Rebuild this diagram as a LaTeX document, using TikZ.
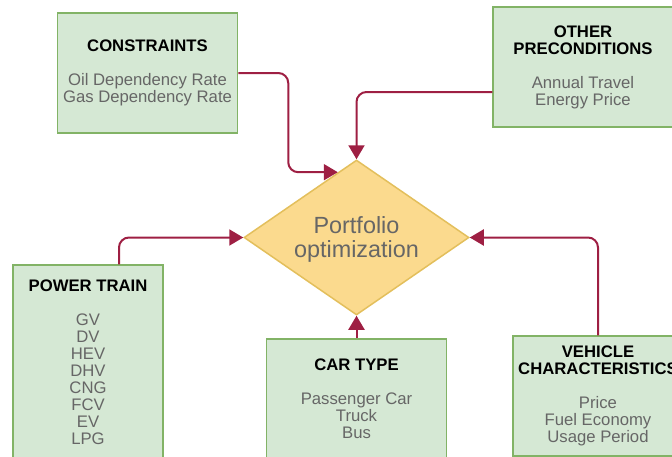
\documentclass[tikz,border=0pt]{standalone}
\usepackage{fontspec}
\setmainfont{Liberation Sans}
\usetikzlibrary{shapes.geometric, arrows.meta, positioning}
\definecolor{BoxGreen}{HTML}{D5E8D4}
\definecolor{BoxEdge}{HTML}{82B366}
\definecolor{DiaFill}{HTML}{FBDA8E}
\definecolor{DiaEdge}{HTML}{E3BF5C}
\definecolor{LinkRed}{HTML}{9E1F43}
\definecolor{BodyGray}{HTML}{666666}
\tikzset{
  inputbox/.style={rectangle, draw=BoxEdge, fill=BoxGreen, line width=1.5pt, minimum width=180pt, minimum height=120pt, inner sep=0pt, font=\fontsize{16.7}{17}\selectfont, text=BodyGray, align=center},
  decision/.style={diamond, draw=DiaEdge, fill=DiaFill, line width=1.5pt, minimum width=225pt, minimum height=155pt, inner sep=0pt},
  decisiontext/.style={font=\fontsize{23.4}{24.5}\selectfont, text=BodyGray, align=center},
  link/.style={-{Triangle[length=14pt,width=16pt]}, line width=2pt, LinkRed, rounded corners=10pt}
}
\newcommand{\boxtitle}[1]{\textcolor{black}{\bfseries #1}}

\begin{document}
\begin{tikzpicture}[x=1pt, y=-1pt]
  \useasboundingbox (0,0) rectangle (672,456);
  \clip (0,0) rectangle (672,456);

  \node[decision, label={[decisiontext, yshift=-2pt]center:Portfolio\\optimization}] (dia) at (356.5,237.5) {};

  \node[inputbox] (con) at (147.5,73) {\boxtitle{CONSTRAINTS}\\[17pt]Oil Dependency Rate\\Gas Dependency Rate};
  \node[inputbox] (oth) at (583,67) {\boxtitle{OTHER}\\\boxtitle{PRECONDITIONS}\\[17pt]Annual Travel\\Energy Price};
  \node[inputbox, minimum width=150pt, minimum height=194pt] (pt) at (88,362) {\boxtitle{POWER TRAIN}\\[17pt]GV\\DV\\HEV\\DHV\\CNG\\FCV\\EV\\LPG};
  \node[inputbox] (car) at (356.5,399) {\boxtitle{CAR TYPE}\\[17pt]Passenger Car\\Truck\\Bus};
  \node[inputbox, minimum width=170pt] (veh) at (598,396) {\boxtitle{VEHICLE}\\\boxtitle{CHARACTERISTICS}\\[17pt]Price\\Fuel Economy\\Usage Period};

  % links into the optimization step
  \draw[link] (con.east) -- ++(50,0) |- (dia.106);
  \draw[link] ([yshift=-25pt]oth.west) -| (dia.north);
  \draw[link] ([xshift=31pt]pt.north) |- (dia.west);
  \draw[link] (car.north) -- (dia.south);
  \draw[link] (veh.north) |- (dia.east);
\end{tikzpicture}
\end{document}
